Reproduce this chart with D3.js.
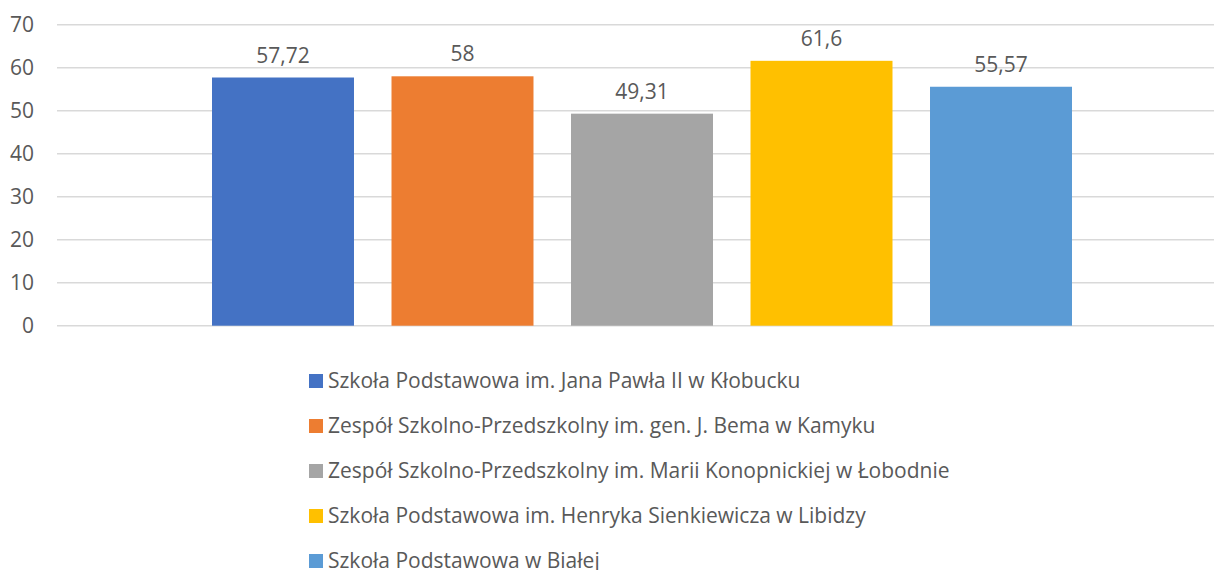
<!DOCTYPE html>
<html>
<head>
<meta charset="utf-8">
<script src="https://cdn.jsdelivr.net/npm/d3@7"></script>
<style>
  body { margin: 0; background: #fff; overflow: hidden; }
  text { font-family: "Open Sans", sans-serif; fill: #595959; }
</style>
</head>
<body>
<div class="container"></div>
<script>
var schools = [
  "Szkoła Podstawowa im. Jana Pawła II w Kłobucku",
  "Zespół Szkolno-Przedszkolny im. gen. J. Bema w Kamyku",
  "Zespół Szkolno-Przedszkolny im. Marii Konopnickiej w Łobodnie",
  "Szkoła Podstawowa im. Henryka Sienkiewicza w Libidzy",
  "Szkoła Podstawowa w Białej"
];
var values = [57.72, 58, 49.31, 61.6, 55.57];
var labels = ["57,72", "58", "49,31", "61,6", "55,57"];
var colors = ["#4472C4", "#ED7D31", "#A5A5A5", "#FFC000", "#5B9BD5"];
var yTicks = [0, 10, 20, 30, 40, 50, 60, 70];

var width = 1214, height = 570;

var svg = d3.select('.container')
  .append("svg")
  .attr("width", width)
  .attr("height", height)
  .style("display", "block");

var y = d3.scaleLinear().domain([0, 70]).range([325.7, 24.7]);
var x = d3.scaleBand().domain(schools).range([212, 1072]).paddingInner(0.209).paddingOuter(0);

// gridlines
svg.append("g").selectAll("line")
  .data(yTicks)
  .enter()
  .append("line")
  .attr("x1", 57)
  .attr("x2", width)
  .attr("y1", function(d){ return y(d); })
  .attr("y2", function(d){ return y(d); })
  .attr("stroke", "#D9D9D9")
  .attr("stroke-width", 1.5);

// y tick labels
svg.append("g").selectAll("text")
  .data(yTicks)
  .enter()
  .append("text")
  .attr("x", 34)
  .attr("y", function(d){ return y(d); })
  .attr("dy", "0.35em")
  .attr("text-anchor", "end")
  .style("font-size", "21px")
  .text(function(d){ return d; });

// bars
svg.append("g").selectAll("rect")
  .data(values)
  .enter()
  .append("rect")
  .attr("x", function(d, i){ return x(schools[i]); })
  .attr("y", function(d){ return y(d); })
  .attr("width", x.bandwidth())
  .attr("height", function(d){ return y(0) - y(d); })
  .attr("fill", function(d, i){ return colors[i]; });

// data labels
svg.append("g").selectAll("text")
  .data(values)
  .enter()
  .append("text")
  .attr("x", function(d, i){ return x(schools[i]) + x.bandwidth() / 2; })
  .attr("y", function(d){ return y(d) - 15; })
  .attr("text-anchor", "middle")
  .style("font-size", "21px")
  .text(function(d, i){ return labels[i]; });

// legend
var legend = svg.append("g").selectAll("g")
  .data(schools)
  .enter()
  .append("g")
  .attr("transform", function(d, i){ return "translate(309," + (381 + i * 45) + ")"; });

legend.append("rect")
  .attr("x", 0)
  .attr("y", -7)
  .attr("width", 14)
  .attr("height", 14)
  .attr("fill", function(d, i){ return colors[i]; });

legend.append("text")
  .attr("x", 19)
  .attr("y", 0)
  .attr("dy", "0.35em")
  .style("font-size", "21px")
  .text(function(d){ return d; });
</script>
</body>
</html>
